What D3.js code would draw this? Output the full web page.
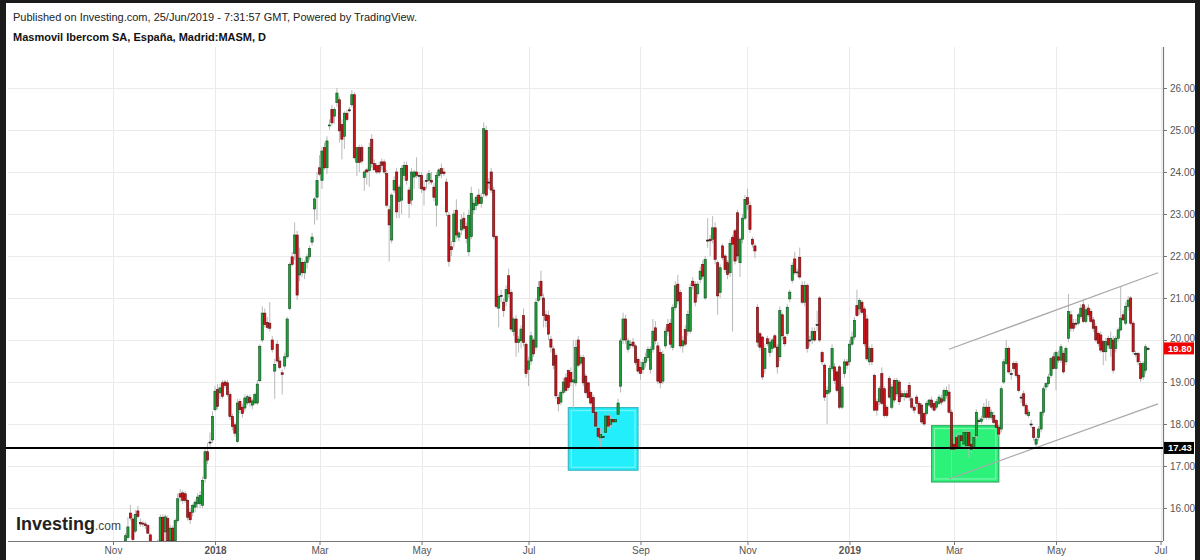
<!DOCTYPE html>
<html><head><meta charset="utf-8">
<script src="https://cdn.jsdelivr.net/npm/d3@7"></script>
<style>
html,body{margin:0;padding:0;background:#fff;}
svg{display:block;font-family:"Liberation Sans",Arial,sans-serif;}
</style></head><body>
<svg id="chart" width="1200" height="560"></svg>
<script>
// ---------- DATA ----------
const holidays = ["2017-12-25","2017-12-26","2018-01-01","2018-03-30","2018-04-02","2018-05-01",
  "2018-12-25","2018-12-26","2019-01-01","2019-04-19","2019-04-22","2019-05-01"];
const axisFirstDay = "2017-11-01";
const axisLastDay = "2019-07-01";
const firstBarDate = "2017-11-08";

const open = [
15.22,15.30,15.88,15.74,15.45,15.93,15.66,15.64,15.62,15.58,
15.36,15.10,15.05,15.00,15.22,15.78,15.43,15.75,15.22,15.52,
15.22,15.70,16.34,16.36,16.34,16.18,15.90,15.90,16.02,16.10,
16.10,16.06,16.70,17.34,17.57,17.62,18.34,18.82,18.74,18.98,
19.00,18.98,18.70,18.18,17.98,17.58,18.54,18.40,18.38,18.50,
18.63,18.45,18.50,18.50,19.03,20.00,20.64,20.42,20.40,20.00,
19.26,19.90,19.50,19.22,19.38,19.60,20.75,21.98,22.06,22.50,
21.55,21.85,21.60,21.85,21.98,22.33,23.12,23.40,24.10,23.80,
24.58,24.10,25.10,25.49,25.33,25.65,25.72,25.13,24.85,25.40,
25.48,25.60,25.84,24.23,24.58,24.58,23.87,24.05,24.03,24.78,
24.20,24.15,24.16,24.24,24.24,23.96,23.10,22.38,23.57,24.00,
23.30,23.33,23.92,24.16,23.57,23.33,23.88,24.00,23.92,23.92,
23.64,23.80,23.80,23.80,23.64,23.21,23.92,24.08,24.00,23.76,
22.97,22.22,22.34,23.09,22.45,22.62,22.90,22.70,22.10,22.46,
23.10,23.20,23.45,23.25,23.49,24.99,23.76,24.00,23.57,22.46,
20.76,21.06,20.90,20.92,21.53,21.13,20.20,20.50,19.94,19.98,
20.58,19.90,19.30,19.50,20.00,19.83,20.94,21.40,21.00,20.60,
20.58,20.02,19.79,19.63,18.63,18.52,18.75,19.10,19.27,19.23,
19.00,18.98,20.00,19.45,19.58,19.14,18.98,18.75,18.63,18.27,
17.90,17.67,17.70,17.80,18.19,17.99,18.11,18.05,18.23,18.90,
20.00,20.50,19.78,19.90,19.95,19.86,19.54,19.35,19.30,19.46,
19.58,19.30,19.78,20.29,19.86,19.70,19.02,19.86,20.37,20.40,
19.82,20.77,21.33,21.13,19.86,20.25,20.21,20.21,21.40,21.33,
21.10,21.44,21.80,21.00,22.38,22.40,22.40,22.67,21.84,21.13,
22.24,22.00,21.84,21.60,22.44,22.60,23.03,21.84,22.40,22.90,
23.39,23.20,22.40,22.24,20.78,20.15,20.07,19.32,20.03,19.70,
19.80,20.10,19.83,19.60,20.60,20.07,20.15,20.98,21.42,21.93,
21.60,21.97,21.30,20.90,21.30,20.00,20.00,20.20,20.37,21.00,
19.70,19.40,18.72,18.76,19.32,19.36,19.24,19.36,18.40,19.20,
19.48,19.48,19.90,20.07,20.82,20.74,20.90,20.74,20.50,19.48,
19.80,19.16,18.53,18.53,19.20,18.84,18.40,19.08,18.40,19.04,
18.72,19.00,18.72,18.65,18.72,18.92,18.60,18.40,18.64,18.49,
18.45,18.25,18.25,18.45,18.57,18.49,18.40,18.49,18.60,18.55,
18.68,18.76,18.28,17.52,17.68,17.44,17.72,17.52,17.48,17.80,
17.52,17.42,17.72,18.08,18.06,18.16,18.40,18.40,18.16,18.20,
18.08,17.92,17.88,19.00,19.44,19.80,19.20,19.44,19.44,19.16,
18.64,18.72,18.44,18.20,18.00,17.92,17.52,17.68,17.88,18.28,
18.88,18.96,19.16,19.60,19.32,19.60,19.52,19.68,19.48,20.04,
20.60,20.40,20.40,20.40,20.56,20.84,20.44,20.76,20.68,20.48,
20.32,20.16,20.12,19.96,19.72,20.04,19.80,20.00,19.80,20.04,
20.24,20.60,20.40,20.80,21.00,20.40,19.68,19.68,19.44,19.12,
19.28,19.80];

const high = [
15.40,15.78,16.07,15.85,15.95,16.05,15.75,15.70,15.68,15.62,
15.40,15.18,15.15,15.25,15.85,15.85,15.85,15.82,15.60,15.58,
15.75,16.35,16.45,16.42,16.40,16.22,16.00,16.10,16.20,16.35,
16.40,16.75,17.45,17.55,17.80,18.30,18.90,18.95,18.95,19.05,
19.05,19.05,18.78,18.25,18.05,18.60,18.60,18.48,18.70,18.70,
18.70,18.60,18.75,19.05,19.90,20.80,20.75,20.55,20.90,20.10,
19.55,20.00,19.60,19.30,19.70,20.55,21.85,22.10,22.80,22.60,
22.20,21.95,21.90,22.05,22.25,22.55,23.40,24.00,24.40,24.60,
24.70,24.85,25.25,25.60,25.55,26.00,25.80,25.25,25.45,25.48,
25.55,25.95,25.90,24.60,24.65,24.65,24.05,24.10,24.70,24.90,
24.30,24.22,24.25,24.32,24.30,24.05,23.20,23.50,23.90,24.10,
23.70,24.15,24.25,24.25,23.65,24.10,24.05,24.35,24.00,24.00,
23.80,23.95,24.05,24.00,23.75,24.00,24.10,24.20,24.10,23.85,
23.05,22.35,23.10,23.35,22.60,23.00,23.05,22.80,23.10,23.65,
23.35,23.45,23.60,23.50,25.18,25.10,23.85,24.10,23.65,22.50,
21.10,21.20,21.00,21.30,21.70,21.20,20.55,20.60,20.10,20.35,
20.75,19.95,19.60,20.20,20.05,21.00,21.40,21.65,21.10,20.70,
20.70,20.10,19.85,19.70,18.70,18.80,19.10,19.20,19.30,19.35,
20.00,20.00,20.10,19.65,19.65,19.20,19.00,18.80,18.70,18.30,
17.95,17.90,17.85,18.30,18.25,18.20,18.15,18.15,18.60,20.05,
20.65,20.60,20.05,20.00,20.05,19.90,19.60,19.50,19.55,19.70,
19.85,19.85,20.50,20.45,19.95,19.80,19.75,20.30,20.50,20.50,
20.85,21.40,21.55,21.20,20.10,20.35,20.70,21.35,21.50,21.40,
21.40,21.75,21.90,22.00,22.90,22.50,22.95,22.80,21.90,21.80,
22.30,22.05,21.90,22.40,22.50,22.65,23.10,22.45,23.00,23.45,
23.60,23.30,22.45,22.30,20.85,20.20,20.10,19.90,20.10,20.05,
20.05,20.15,19.90,20.80,20.65,20.10,20.85,21.20,21.85,22.10,
21.70,22.20,21.40,21.40,21.35,20.10,20.30,20.30,20.70,21.05,
19.75,19.45,18.90,19.40,19.90,19.45,19.30,19.40,18.95,19.55,
19.55,20.00,20.20,20.55,21.20,21.00,20.95,20.80,20.60,19.85,
19.90,19.20,18.60,18.90,19.35,18.90,18.45,19.15,18.95,19.10,
19.10,19.05,18.80,18.80,18.80,19.00,18.65,18.45,18.70,18.55,
18.50,18.30,18.55,18.60,18.65,18.55,18.60,18.70,18.70,18.85,
18.90,18.95,18.35,17.60,17.75,17.80,17.80,17.85,17.85,17.85,
17.60,17.75,18.35,18.15,18.20,18.50,18.60,18.55,18.35,18.30,
18.12,17.98,18.90,19.55,20.00,19.85,19.30,19.50,19.50,19.20,
18.70,18.80,18.50,18.35,18.10,17.95,17.70,17.95,18.30,18.90,
19.00,19.20,19.60,19.70,19.75,19.75,19.90,19.75,19.85,21.10,
20.70,20.50,20.50,20.65,20.85,20.95,20.80,20.85,20.75,20.55,
20.40,20.20,20.20,20.00,20.05,20.10,20.20,20.10,20.10,20.30,
21.28,20.70,20.90,21.05,21.05,20.45,19.75,19.72,19.50,19.50,
19.90,19.85];

const low = [
15.15,15.25,15.70,15.20,15.40,15.75,15.55,15.55,15.50,15.38,
15.15,14.95,14.90,14.95,15.10,15.15,15.15,15.15,15.12,15.15,
15.12,15.65,16.15,16.10,16.12,15.70,15.62,15.80,15.90,16.00,
16.00,16.00,16.60,17.05,17.40,17.55,18.30,18.35,18.60,18.60,
18.85,18.65,18.10,17.85,17.70,17.55,18.25,18.15,18.30,18.45,
18.40,18.35,18.45,18.45,19.00,19.95,20.30,20.25,20.20,19.70,
18.60,19.45,19.30,18.70,19.30,19.55,20.70,21.75,21.90,20.95,
21.40,21.50,21.45,21.70,21.90,22.25,22.75,22.85,23.90,23.60,
24.05,23.95,25.00,25.10,25.15,25.55,24.70,24.30,24.55,25.20,
25.42,25.55,24.30,23.90,24.00,24.20,23.55,23.70,23.65,24.10,
24.05,23.95,23.95,24.05,23.95,23.15,21.87,22.30,23.50,22.90,
22.90,23.00,23.80,23.70,22.90,23.20,23.60,23.85,23.60,23.50,
23.20,23.60,23.70,23.70,23.30,22.70,23.85,23.85,23.90,22.95,
21.75,22.00,22.20,22.40,22.35,22.50,22.60,22.30,22.00,22.40,
23.00,23.10,23.20,23.15,23.40,23.40,23.60,23.50,22.40,20.75,
20.30,20.90,20.55,20.80,21.00,20.20,20.10,19.60,19.70,19.80,
19.85,19.10,18.90,19.40,19.60,19.75,20.90,20.95,20.30,20.30,
20.00,19.70,19.30,18.60,18.30,18.45,18.70,18.75,18.80,18.90,
18.30,18.90,19.35,19.40,18.90,18.70,18.60,18.45,18.20,17.90,
17.60,17.44,17.60,17.75,17.90,17.90,17.95,17.95,18.20,18.75,
19.90,19.90,19.70,19.80,19.80,19.40,19.20,19.05,19.20,19.35,
19.50,19.20,19.70,19.90,18.95,18.85,18.95,19.80,20.10,19.80,
19.75,20.70,20.85,19.80,19.70,19.85,20.10,20.15,21.20,20.80,
21.00,21.35,21.45,20.95,22.20,22.00,22.30,21.80,20.60,21.00,
21.90,21.60,21.45,21.50,20.20,21.80,21.90,21.50,22.30,22.85,
23.10,22.55,22.20,21.95,19.85,19.75,19.05,19.20,19.85,19.60,
19.70,19.80,19.20,19.50,20.00,19.85,20.10,20.90,21.35,21.55,
21.50,21.45,20.85,20.80,19.70,19.85,19.90,19.95,20.20,19.95,
19.40,18.55,18.00,18.70,19.25,18.95,18.75,18.35,18.35,19.10,
19.30,19.40,19.85,20.00,20.55,20.60,20.60,19.85,19.50,19.40,
19.40,18.30,18.20,18.45,18.45,18.15,18.15,18.60,18.35,18.50,
18.65,18.45,18.60,18.55,18.60,18.55,18.35,18.25,18.40,18.20,
18.00,17.95,18.20,18.40,18.35,18.30,18.35,18.45,18.45,18.50,
18.60,18.25,16.68,17.35,17.40,17.40,17.55,17.45,17.40,17.20,
17.30,17.38,17.65,18.00,18.00,18.10,18.10,18.10,18.10,18.00,
17.90,17.70,17.80,18.95,19.40,19.20,19.05,19.25,19.10,18.75,
18.50,18.40,18.20,18.15,17.90,17.60,17.43,17.60,17.80,18.20,
18.80,18.90,19.10,19.30,18.80,19.45,19.45,19.20,19.40,19.95,
20.20,20.20,20.30,20.35,20.50,20.40,20.40,20.55,20.40,20.20,
19.95,19.85,19.70,19.40,19.50,19.80,19.60,19.20,19.70,19.95,
20.20,20.45,20.35,20.70,20.35,19.65,19.60,19.40,19.00,19.05,
19.20,19.75];

const close = [
15.34,15.55,15.76,15.25,15.85,15.80,15.62,15.62,15.58,15.40,
15.20,15.05,15.00,15.15,15.78,15.22,15.79,15.22,15.52,15.22,
15.70,16.22,16.26,16.18,16.18,15.78,15.72,16.06,16.14,16.26,
16.30,16.66,17.34,17.14,17.57,18.18,18.78,18.42,18.86,18.66,
18.92,18.70,18.18,17.94,17.78,18.50,18.34,18.25,18.62,18.65,
18.51,18.55,18.70,18.95,19.85,20.64,20.37,20.30,20.28,19.77,
19.42,19.50,19.35,19.18,19.60,20.50,21.80,21.80,22.50,21.07,
21.95,21.60,21.85,21.98,22.18,22.45,23.36,23.80,23.95,24.50,
24.10,24.74,25.12,25.17,25.49,25.88,24.98,24.78,25.40,25.25,
25.48,25.84,24.34,24.58,24.23,24.26,24.00,24.00,24.58,24.20,
24.05,24.00,24.00,24.16,24.00,23.21,22.74,23.45,23.80,23.05,
23.64,24.08,24.16,23.80,23.25,24.00,24.00,23.92,23.92,23.60,
23.57,23.80,23.96,23.76,23.40,23.92,24.05,23.96,23.96,23.05,
21.87,22.15,23.00,22.50,22.55,22.86,22.66,22.42,22.97,23.49,
23.25,23.40,23.25,23.40,25.03,23.45,23.76,23.57,22.46,20.80,
21.04,21.06,20.70,21.20,21.10,20.26,20.50,19.94,20.02,20.26,
19.94,19.20,19.50,20.10,19.67,20.90,21.25,21.05,20.58,20.46,
20.14,19.83,19.40,18.67,18.48,18.75,19.00,18.80,18.87,19.00,
19.05,19.82,19.40,19.58,18.98,18.75,18.63,18.50,18.27,17.95,
17.70,17.75,17.70,18.19,17.95,18.11,18.05,18.11,18.50,19.98,
20.50,20.00,19.98,19.90,19.86,19.46,19.26,19.20,19.46,19.58,
19.78,19.78,20.21,19.98,19.02,18.98,19.66,20.21,20.21,19.90,
20.77,21.29,20.93,19.86,19.98,19.90,20.61,21.25,21.29,20.90,
21.33,21.64,21.52,21.92,22.38,22.36,22.67,21.92,21.05,21.72,
21.96,21.68,21.56,22.30,22.28,21.88,22.00,22.40,22.90,23.35,
23.23,22.63,22.28,22.12,19.95,19.83,19.12,19.80,19.91,19.95,
20.00,19.83,19.36,20.70,20.10,19.91,20.78,21.14,21.77,21.60,
21.62,21.50,20.90,21.30,19.80,20.00,20.20,20.00,20.37,20.00,
19.48,18.64,18.80,19.32,19.80,19.04,18.80,18.40,18.88,19.48,
19.40,19.90,20.07,20.47,20.58,20.94,20.66,19.91,19.55,19.80,
19.48,18.33,18.33,18.84,18.49,18.20,18.20,18.64,18.88,18.57,
19.04,18.53,18.65,18.72,18.64,18.64,18.40,18.33,18.49,18.25,
18.05,18.00,18.49,18.57,18.40,18.33,18.53,18.64,18.52,18.80,
18.80,18.28,17.40,17.40,17.44,17.72,17.60,17.80,17.80,17.48,
17.40,17.68,18.28,18.08,18.12,18.40,18.16,18.16,18.28,18.04,
17.92,17.76,18.84,19.48,19.80,19.24,19.20,19.32,19.16,18.80,
18.64,18.44,18.24,18.28,18.00,17.68,17.64,17.88,18.28,18.84,
18.96,19.12,19.56,19.32,19.70,19.52,19.84,19.24,19.80,20.68,
20.28,20.28,20.40,20.60,20.76,20.44,20.72,20.60,20.44,20.28,
20.00,19.92,19.76,19.72,19.96,19.88,20.04,19.28,20.04,20.24,
20.52,20.48,20.80,20.95,20.40,19.72,19.68,19.48,19.08,19.44,
19.84,19.80];

const yTicks = [16,17,18,19,20,21,22,23,24,25,26];
const xTickDates = ["2017-11-01","2018-01-02","2018-03-01","2018-05-02","2018-07-02","2018-09-03",
  "2018-11-01","2019-01-02","2019-03-01","2019-05-02","2019-07-01"];
const xTickLabels = ["Nov","2018","Mar","May","Jul","Sep","Nov","2019","Mar","May","Jul"];
const yearLabels = ["2018","2019"];

const supportLevel = 17.43;
const lastPrice = 19.80;
const channelUpperDates = ["2019-02-27","2019-06-28"], channelUpperPrices = [19.78, 21.60];
const channelLowerDates = ["2019-02-27","2019-06-28"], channelLowerPrices = [16.69, 18.48];
const boxFrom = ["2018-07-24","2019-02-18"], boxTo = ["2018-08-31","2019-03-27"];
const boxLow = [16.90, 16.62], boxHigh = [18.39, 17.96];

const titleLine1 = "Published on Investing.com, 25/Jun/2019 - 7:31:57 GMT, Powered by TradingView.";
const titleLine2 = "Masmovil Ibercom SA, España, Madrid:MASM, D";

// ---------- BUILD ----------
const fmt = d3.utcFormat("%Y-%m-%d");
const tradingDays = d3.utcDays(new Date(axisFirstDay + "T00:00:00Z"), d3.utcDay.offset(new Date(axisLastDay + "T00:00:00Z"), 1))
  .filter(d => d.getUTCDay() % 6 !== 0 && !holidays.includes(fmt(d))).map(fmt);
const startIdx = tradingDays.indexOf(firstBarDate);
const barDates = tradingDays.slice(startIdx, startIdx + close.length);
const bars = barDates.map((d, i) => ({date: d, o: open[i], h: high[i], l: low[i], c: close[i]}));

const W = 1200, H = 560;
const plot = {left: 8, right: 1163, top: 47, bottom: 541};
const svg = d3.select("#chart");

const x = d3.scalePoint().domain(tradingDays).range([113, 1160.5]);
const y = d3.scaleLinear().domain([16, 26]).range([508, 88]);

svg.append("rect").attr("width", W).attr("height", H).attr("fill", "#fff");

// header
svg.append("text").attr("x", 13).attr("y", 21).attr("font-size", 11).attr("fill", "#222").text(titleLine1);
svg.append("text").attr("x", 13).attr("y", 41).attr("font-size", 11).attr("font-weight", "bold").attr("fill", "#111").text(titleLine2);

// clip
svg.append("defs").append("clipPath").attr("id", "plotclip").append("rect")
  .attr("x", plot.left).attr("y", plot.top).attr("width", plot.right - plot.left).attr("height", plot.bottom - plot.top);

const g = svg.append("g").attr("clip-path", "url(#plotclip)");

// grid
g.selectAll("line.hg").data(yTicks).join("line").attr("class", "hg")
  .attr("x1", plot.left).attr("x2", plot.right).attr("y1", d => y(d)).attr("y2", d => y(d))
  .attr("stroke", "#ebebeb").attr("stroke-width", 1).attr("shape-rendering", "crispEdges");
g.selectAll("line.vg").data(xTickDates).join("line").attr("class", "vg")
  .attr("x1", d => Math.round(x(d)) + 0.5).attr("x2", d => Math.round(x(d)) + 0.5)
  .attr("y1", plot.top).attr("y2", plot.bottom)
  .attr("stroke", "#ebebeb").attr("stroke-width", 1);

// boxes
const boxFill = ["#22eefc", "#2cf27a"], boxStroke = ["#3bb8c4", "#2fae63"];
boxFrom.forEach((f, i) => {
  const x0 = x(f), x1 = x(boxTo[i]);
  g.append("rect").attr("x", x0).attr("y", y(boxHigh[i])).attr("width", x1 - x0)
    .attr("height", y(boxLow[i]) - y(boxHigh[i]))
    .attr("fill", boxFill[i]).attr("stroke", boxStroke[i]).attr("stroke-width", 1.2);
  g.append("rect").attr("x", x0 + 3).attr("y", y(boxHigh[i]) + 3).attr("width", x1 - x0 - 6)
    .attr("height", y(boxLow[i]) - y(boxHigh[i]) - 6)
    .attr("fill", "none").attr("stroke", "#ffffff").attr("stroke-opacity", 0.45).attr("stroke-width", 1);
});

// candles
const bw = 2.2;
const upFill = "#1f9e3a", upStroke = "#0c4f1b", dnFill = "#c8161d", dnStroke = "#5e0a0d", flat = "#222";
const cg = g.append("g");
cg.selectAll("line.wick").data(bars).join("line").attr("class", "wick")
  .attr("x1", d => x(d.date)).attr("x2", d => x(d.date))
  .attr("y1", d => y(d.h)).attr("y2", d => y(d.l))
  .attr("stroke", "#b9b9b9").attr("stroke-width", 1);
cg.selectAll("rect.body").data(bars).join("rect").attr("class", "body")
  .attr("x", d => x(d.date) - bw / 2).attr("width", bw)
  .attr("y", d => y(Math.max(d.o, d.c)))
  .attr("height", d => Math.max(1, Math.abs(y(d.o) - y(d.c))))
  .attr("fill", d => d.c > d.o ? upFill : d.c < d.o ? dnFill : flat)
  .attr("stroke", d => d.c > d.o ? upStroke : d.c < d.o ? dnStroke : flat)
  .attr("stroke-width", 0.6);

// channel lines
[[channelUpperDates, channelUpperPrices], [channelLowerDates, channelLowerPrices]].forEach(([ds, ps]) => {
  g.append("line").attr("x1", x(ds[0])).attr("y1", y(ps[0])).attr("x2", x(ds[1])).attr("y2", y(ps[1]))
    .attr("stroke", "#a9a9a9").attr("stroke-width", 1.2);
});

// support line
svg.append("line").attr("x1", 0).attr("x2", plot.right).attr("y1", y(supportLevel)).attr("y2", y(supportLevel))
  .attr("stroke", "#000").attr("stroke-width", 2);

// axes
const yAxis = d3.axisRight(y).tickValues(yTicks).tickFormat(d3.format(".2f")).tickSize(4).tickPadding(3);
const ya = svg.append("g").attr("transform", `translate(${plot.right},0)`).call(yAxis);
ya.select(".domain").remove();
ya.selectAll("line").attr("stroke", "#777");
ya.selectAll("text").attr("fill", "#555").attr("font-size", 10).attr("font-family", "Liberation Sans, Arial, sans-serif");
// the 20.00 label sits just above the last-price tag, as in the reference
ya.selectAll(".tick").filter(d => d === 20).select("text").attr("dy", "0.1em");
svg.append("line").attr("x1", plot.right + 0.5).attr("x2", plot.right + 0.5).attr("y1", plot.top).attr("y2", plot.bottom)
  .attr("stroke", "#777").attr("stroke-width", 1.2);

const xAxis = d3.axisBottom(x).tickValues(xTickDates).tickFormat((d, i) => xTickLabels[i]).tickSize(4).tickPadding(2);
const xa = svg.append("g").attr("transform", `translate(0,${plot.bottom})`).call(xAxis);
xa.select(".domain").remove();
xa.selectAll("line").attr("stroke", "#777");
xa.selectAll("text").attr("fill", "#555").attr("font-size", 10).attr("font-family", "Liberation Sans, Arial, sans-serif")
  .attr("font-weight", (d, i) => yearLabels.includes(xTickLabels[i]) ? "bold" : "normal");
svg.append("line").attr("x1", plot.left).attr("x2", plot.right).attr("y1", plot.bottom + 0.5).attr("y2", plot.bottom + 0.5)
  .attr("stroke", "#777").attr("stroke-width", 1.2);

// price tags
function tag(val, fill) {
  const yy = y(val);
  svg.append("rect").attr("x", plot.right + 1).attr("y", yy - 6).attr("width", 30).attr("height", 12).attr("fill", fill);
  svg.append("text").attr("x", plot.right + 5).attr("y", yy + 3.5).attr("font-size", 9.5).attr("font-weight", "bold")
    .attr("fill", "#fff").text(d3.format(".2f")(val));
}
tag(lastPrice, "#f00000");
tag(supportLevel, "#000");

// logo
const logo = svg.append("text").attr("x", 16).attr("y", 530);
logo.append("tspan").attr("font-size", 18).attr("font-weight", "bold").attr("fill", "#222").text("Investing");
logo.append("tspan").attr("font-size", 12).attr("fill", "#444").text(".com");

// frame
svg.append("rect").attr("x", 0).attr("y", 0).attr("width", W).attr("height", 3).attr("fill", "#1b1b1b");
svg.append("rect").attr("x", 0).attr("y", 0).attr("width", 6).attr("height", H).attr("fill", "#1b1b1b");
svg.append("rect").attr("x", W - 5).attr("y", 0).attr("width", 5).attr("height", H).attr("fill", "#1b1b1b");
</script>
</body></html>
